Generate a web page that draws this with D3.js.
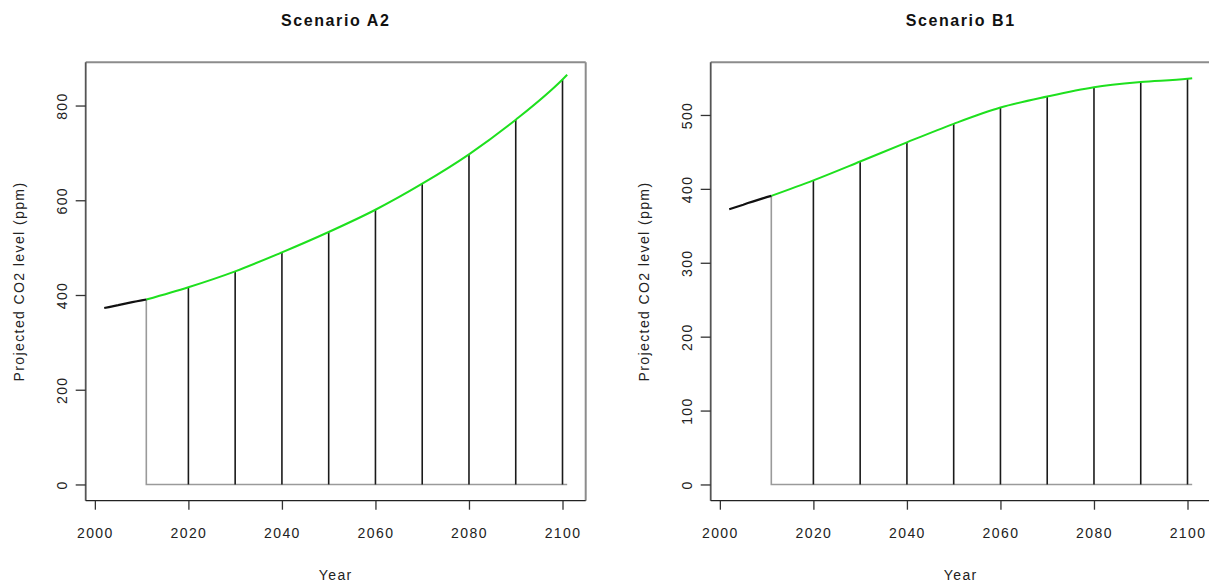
<!DOCTYPE html>
<html>
<head>
<meta charset="utf-8">
<script src="https://cdn.jsdelivr.net/npm/d3@7/dist/d3.min.js"></script>
<style>
  html, body { margin: 0; padding: 0; background: #fff; }
  svg { display: block; }
  text { font-family: "Liberation Sans", Arial, Helvetica, sans-serif; fill: #222; }
  .tick-label { font-size: 14px; letter-spacing: 1.4px; }
  .axis-title { font-size: 14px; letter-spacing: 1.4px; }
  .panel-title { font-size: 16px; font-weight: bold; letter-spacing: 1.6px; fill: #111; }
</style>
</head>
<body>
<svg id="chart" width="1209" height="584"></svg>
<script>
// Observed annual CO2 (ppm), 2002-2011
const obsYears = [2002, 2003, 2004, 2005, 2006, 2007, 2008, 2009, 2010, 2011];
const obsCO2 = [372.5, 374.5, 376.5, 378.5, 380.8, 382.8, 384.8, 386.8, 388.8, 390.5];

// Projected CO2 (ppm) under each scenario
const projYears = [2011, 2020, 2030, 2040, 2050, 2060, 2070, 2080, 2090, 2100, 2101];
const projA2 = [390.5, 416.5, 450, 490, 533, 580, 635, 697, 770, 855, 865];
const projB1 = [390.5, 411.5, 437, 463, 488, 510, 525, 537.5, 544.5, 549, 549.8];

// Decade marks drawn as drop lines
const decadeYears = [2020, 2030, 2040, 2050, 2060, 2070, 2080, 2090, 2100];

// Axis ticks and limits
const xTicks = [2000, 2020, 2040, 2060, 2080, 2100];
const xLim = [2002, 2101];
const yTicksA2 = [0, 200, 400, 600, 800];
const yTicksB1 = [0, 100, 200, 300, 400, 500];
const yLimA2 = [0, 857];
const yLimB1 = [0, 549.3];

const panels = [
  { title: "Scenario A2", values: projA2, yLim: yLimA2, yTicks: yTicksA2, left: 85.7 },
  { title: "Scenario B1", values: projB1, yLim: yLimB1, yTicks: yTicksB1, left: 710.7 }
];

const plotW = 500, plotTop = 62.3, plotBottom = 500.7;

// R-style axis range: pad the data range by 4% on each side
function padded(lim) {
  const d = (lim[1] - lim[0]) * 0.04;
  return [lim[0] - d, lim[1] + d];
}

const svg = d3.select("#chart");

panels.forEach(p => {
  const g = svg.append("g");
  const x = d3.scaleLinear().domain(padded(xLim)).range([p.left, p.left + plotW]);
  const y = d3.scaleLinear().domain(padded(p.yLim)).range([plotBottom, plotTop]);

  const projPts = projYears.map((yr, i) => [yr, p.values[i]]);
  const valueAt = yr => p.values[projYears.indexOf(yr)];

  // Gray outline: start-year drop and zero baseline
  const first = projYears[0], last = projYears[projYears.length - 1];
  g.append("path")
    .attr("d", d3.line()([[x(first), y(p.values[0])], [x(first), y(0)], [x(last), y(0)]]))
    .attr("fill", "none").attr("stroke", "#9a9a9a").attr("stroke-width", 1.6);

  // Decade drop lines
  g.selectAll("line.drop").data(decadeYears).join("line")
    .attr("class", "drop")
    .attr("x1", d => x(d)).attr("x2", d => x(d))
    .attr("y1", y(0)).attr("y2", d => y(valueAt(d)))
    .attr("stroke", "#1a1a1a").attr("stroke-width", 1.6);

  // Projection curve
  g.append("path")
    .datum(projPts)
    .attr("d", d3.line().x(d => x(d[0])).y(d => y(d[1])).curve(d3.curveMonotoneX))
    .attr("fill", "none").attr("stroke", "#1ee01e").attr("stroke-width", 2);

  // Observed record
  g.append("path")
    .datum(obsYears.map((yr, i) => [yr, obsCO2[i]]))
    .attr("d", d3.line().x(d => x(d[0])).y(d => y(d[1])))
    .attr("fill", "none").attr("stroke", "#111").attr("stroke-width", 2.2);

  // Plot frame
  const L = p.left, R = p.left + plotW;
  g.append("line").attr("x1", L).attr("x2", R).attr("y1", plotTop).attr("y2", plotTop)
    .attr("stroke", "#8c8c8c").attr("stroke-width", 2);
  g.append("line").attr("x1", R).attr("x2", R).attr("y1", plotTop).attr("y2", plotBottom)
    .attr("stroke", "#8c8c8c").attr("stroke-width", 2);
  g.append("line").attr("x1", L).attr("x2", L).attr("y1", plotTop).attr("y2", plotBottom)
    .attr("stroke", "#555").attr("stroke-width", 1.8);
  g.append("line").attr("x1", L).attr("x2", R).attr("y1", plotBottom).attr("y2", plotBottom)
    .attr("stroke", "#222").attr("stroke-width", 1.2);

  // X axis
  const xAxis = d3.axisBottom(x).tickValues(xTicks).tickSize(9).tickPadding(18).tickFormat(d3.format("d"));
  const gx = g.append("g").attr("transform", `translate(0,${plotBottom})`).call(xAxis);
  gx.select(".domain").remove();
  gx.selectAll(".tick line").attr("stroke", "#333").attr("stroke-width", 1.3);
  gx.selectAll(".tick text").attr("class", "tick-label").attr("fill", "#222").attr("font-size", null).attr("font-family", null);

  // Y axis (labels rotated parallel to the axis)
  const yAxis = d3.axisLeft(y).tickValues(p.yTicks).tickSize(10).tickFormat(d3.format("d"));
  const gy = g.append("g").attr("transform", `translate(${L},0)`).call(yAxis);
  gy.select(".domain").remove();
  gy.selectAll(".tick line").attr("stroke", "#333").attr("stroke-width", 1.3);
  gy.selectAll(".tick text")
    .attr("class", "tick-label")
    .attr("fill", "#222").attr("font-size", null).attr("font-family", null)
    .attr("x", null).attr("dy", null)
    .attr("text-anchor", "middle")
    .attr("transform", "translate(-19,0) rotate(-90)");

  // Titles
  const cx = (L + R) / 2;
  g.append("text").attr("class", "panel-title")
    .attr("x", cx).attr("y", 26).attr("text-anchor", "middle").text(p.title);
  g.append("text").attr("class", "axis-title")
    .attr("x", cx).attr("y", 580).attr("text-anchor", "middle").text("Year");
  g.append("text").attr("class", "axis-title")
    .attr("transform", `translate(${L - 62},${(plotTop + plotBottom) / 2}) rotate(-90)`)
    .attr("text-anchor", "middle").text("Projected CO2 level (ppm)");
});
</script>
</body>
</html>
